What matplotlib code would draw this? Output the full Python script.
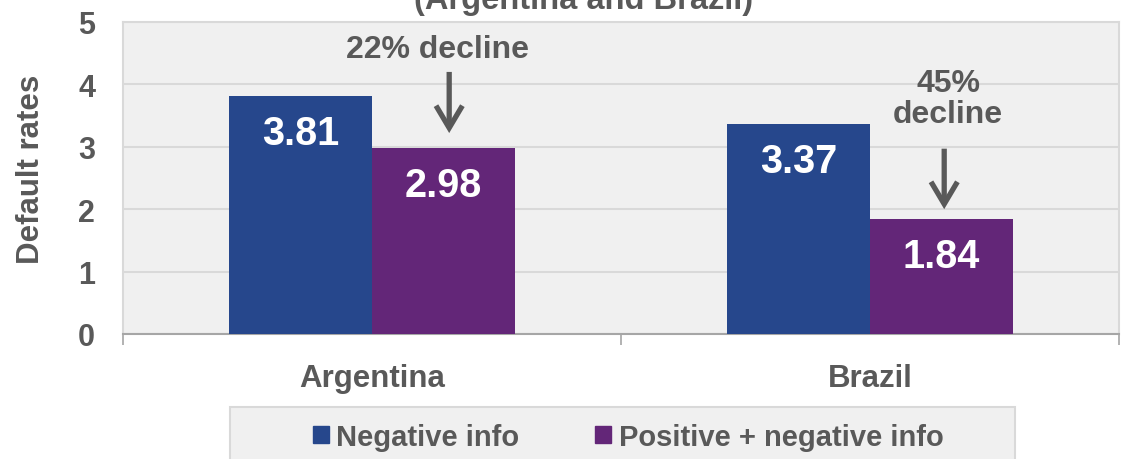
import matplotlib
matplotlib.use("Agg")
import matplotlib.pyplot as plt
import matplotlib.patches as mpatches
import numpy as np

plt.rcParams['font.family'] = ['Liberation Sans', 'DejaVu Sans']
plt.rcParams['font.weight'] = 'bold'

categories = ["Argentina", "Brazil"]
series_names = ["Negative info", "Positive + negative info"]
negative_info = [3.81, 3.37]
positive_negative_info = [2.98, 1.84]
declines = ["22% decline", "45%\ndecline"]
yticks = [0, 1, 2, 3, 4, 5]

c_blue = "#26478C"
c_purple = "#632678"
c_text = "#595959"

fig = plt.figure(figsize=(11.27, 4.6), dpi=100)
ax = fig.add_axes([123/1127, (460-335)/460, 996/1127, 312/460])
ax.set_facecolor("#F0F0F0")

x = np.arange(len(categories))
w = 0.287
b1 = ax.bar(x - w/2, negative_info, width=w, color=c_blue, label=series_names[0], zorder=3)
b2 = ax.bar(x + w/2, positive_negative_info, width=w, color=c_purple, label=series_names[1], zorder=3)

for bars, vals in ((b1, negative_info), (b2, positive_negative_info)):
    for r, v in zip(bars, vals):
        ax.text(r.get_x() + r.get_width()/2, v - 0.59, f"{v:.2f}", ha="center", va="center",
                color="white", fontsize=28.5, fontweight="bold", zorder=4)

ax.set_xlim(-0.5, 1.5)
ax.set_ylim(0, 5)
ax.set_yticks(yticks)
ax.set_yticklabels([str(t) for t in yticks])
ax.grid(axis="y", color="#D9D9D9", linewidth=1.5, zorder=1)
ax.set_axisbelow(True)

for s in ("top", "left", "right"):
    ax.spines[s].set_color("#D9D9D9")
    ax.spines[s].set_linewidth(1.5)
ax.spines["bottom"].set_color("#A6A6A6")
ax.spines["bottom"].set_linewidth(1.5)

ax.set_xticks(x)
ax.set_xticklabels(categories)
ax.set_xticks([-0.5, 0.5, 1.5], minor=True)
ax.tick_params(axis="x", which="major", length=0, pad=21, labelsize=22.5, labelcolor=c_text)
ax.tick_params(axis="x", which="minor", length=8, width=1.2, color="#A6A6A6", direction="out")
ax.tick_params(axis="y", length=0, pad=20, labelsize=22, labelcolor=c_text)
for lab in ax.get_xticklabels() + ax.get_yticklabels():
    lab.set_fontweight("bold")

ax.set_ylabel("Default rates", fontsize=22.5, fontweight="bold", color=c_text)
ax.yaxis.set_label_coords(-0.077, 0.532)

# annotations
arrow_style = dict(arrowstyle="->,head_length=1.6,head_width=0.95", color=c_text, lw=3.8,
                   shrinkA=0, shrinkB=0, mutation_scale=10, joinstyle="miter", capstyle="butt")
ax.text(0.131, 4.57, declines[0], ha="center", va="center", fontsize=23, fontweight="bold", color=c_text)
ax.annotate("", xy=(0.155, 3.22), xytext=(0.155, 4.2), arrowprops=arrow_style)
ax.text(1.157, 3.78, declines[1], ha="center", va="center", fontsize=23, fontweight="bold",
        color=c_text, linespacing=1.05)
ax.annotate("", xy=(1.149, 2.0), xytext=(1.149, 2.97), arrowprops=arrow_style)

# title (partly cut off at top, as in the reference)
fig.text(584/1127, 1 - 9/460, "(Argentina and Brazil)", ha="center", va="baseline",
         fontsize=23.5, fontweight="bold", color=c_text)

# legend box
rect = mpatches.Rectangle((230/1127, -0.05), 785/1127, (460-408)/460 + 0.05,
                          transform=fig.transFigure, facecolor="#F0F0F0", edgecolor="#D9D9D9",
                          linewidth=1.5, zorder=0)
fig.patches.append(rect)
handles = [mpatches.Patch(color=c_blue), mpatches.Patch(color=c_purple)]
leg = fig.legend(handles, series_names, loc="center", bbox_to_anchor=(628/1127, 1 - 438/460),
                 ncol=2, frameon=False, fontsize=21, handlelength=0.55, handleheight=0.55,
                 handletextpad=0.25, columnspacing=2.62)
for t in leg.get_texts():
    t.set_color(c_text)
    t.set_fontweight("bold")

fig.savefig("out.png", dpi=100)
